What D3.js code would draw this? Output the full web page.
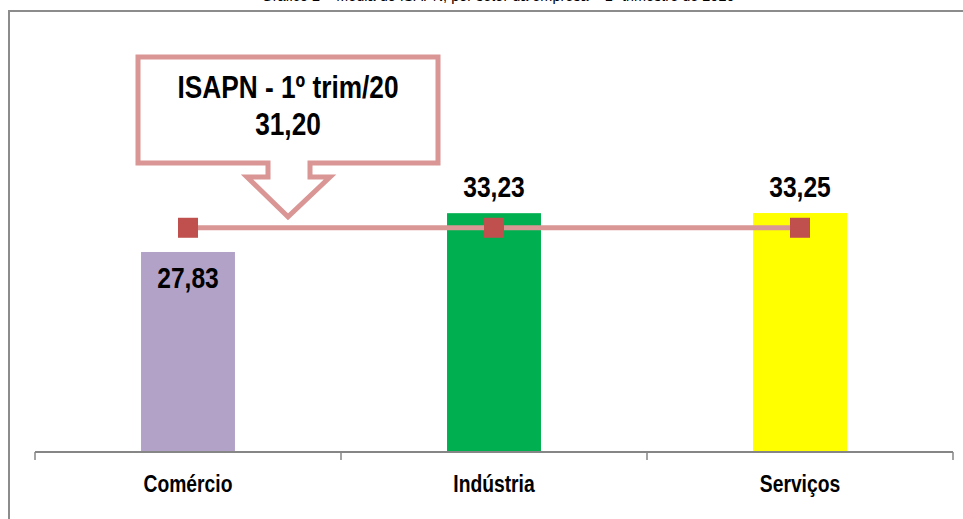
<!DOCTYPE html>
<html><head><meta charset="utf-8">
<script src="https://cdn.jsdelivr.net/npm/d3@7"></script>
<style>html,body{margin:0;padding:0;background:#fff;overflow:hidden}</style>
</head><body>
<script>
const categories = ["Comércio", "Indústria", "Serviços"];
const values = [27.83, 33.23, 33.25];
const isapnValue = 31.20;
const valueLabels = ["27,83", "33,23", "33,25"];
const calloutLines = ["ISAPN - 1º trim/20", "31,20"];
const titleText = "Gráfico 2 – Média do ISAPN, por setor da empresa – 1º trimestre de 2020";
const barColors = ["#b3a2c7", "#00b050", "#ffff00"];

const W = 963, H = 519;
const svg = d3.select("body").append("svg").attr("width", W).attr("height", H);
const FONT = "'Liberation Sans', Arial, sans-serif";

function narrow(sel, f) {
  sel.each(function(){ const L = this.getComputedTextLength(); d3.select(this).attr("textLength", L * (f||0.82)).attr("lengthAdjust", "spacingAndGlyphs"); });
}

// frame
svg.append("path").attr("d", "M9,525 V11 H970").attr("fill", "none").attr("stroke", "#8c8c8c").attr("stroke-width", 2);
// title (cut off at top, as in the reference)
svg.append("text").attr("x", 498).attr("y", 0.5).attr("text-anchor", "middle")
  .attr("font-family", FONT).attr("font-size", 14).attr("fill", "#000").text(titleText)
  .call(sel => sel.each(function(){ const L = this.getComputedTextLength(); d3.select(this).attr("textLength", 473).attr("lengthAdjust", "spacingAndGlyphs"); }));

const x = d3.scaleBand().domain(categories).range([35, 953]).paddingInner(0.693).paddingOuter(0.3465);
const y = d3.scaleLinear().domain([0, 40]).range([452, 452 - 40 * 7.187]);

// bars
svg.selectAll("rect.bar").data(categories).join("rect").attr("class", "bar")
  .attr("x", d => x(d)).attr("width", x.bandwidth())
  .attr("y", (d, i) => y(values[i])).attr("height", (d, i) => y(0) - y(values[i]))
  .attr("fill", (d, i) => barColors[i]);

// axis
const ax = svg.append("g").attr("transform", `translate(0,${y(0)})`);
ax.append("line").attr("x1", 35).attr("x2", 953).attr("stroke", "#868686").attr("stroke-width", 2);
const bounds = d3.range(categories.length + 1).map(i => x.range()[0] + i * x.step());
ax.selectAll("line.tick").data(bounds).join("line").attr("class", "tick")
  .attr("x1", d => d).attr("x2", d => d).attr("y1", 0).attr("y2", 8).attr("stroke", "#868686").attr("stroke-width", 1.5);
ax.selectAll("text.cat").data(categories).join("text").attr("class", "cat")
  .attr("x", d => x(d) + x.bandwidth() / 2).attr("y", 40).attr("text-anchor", "middle")
  .attr("font-family", FONT).attr("font-weight", "bold").attr("font-size", 23.5).attr("fill", "#000")
  .text(d => d).call(narrow);

// value labels
svg.selectAll("text.val").data(categories).join("text").attr("class", "val")
  .attr("x", d => x(d) + x.bandwidth() / 2)
  .attr("y", (d, i) => i === 0 ? y(values[i]) + 36 : y(values[i]) - 16)
  .attr("text-anchor", "middle").attr("font-family", FONT).attr("font-weight", "bold")
  .attr("font-size", 30).attr("fill", "#000").text((d, i) => valueLabels[i]).call(narrow);

// ISAPN line
const line = d3.line().x(d => x(d) + x.bandwidth() / 2).y(() => y(isapnValue));
svg.append("path").attr("d", line(categories)).attr("fill", "none").attr("stroke", "#d99694").attr("stroke-width", 5);
svg.selectAll("rect.mk").data(categories).join("rect").attr("class", "mk")
  .attr("x", d => x(d) + x.bandwidth() / 2 - 10).attr("y", y(isapnValue) - 10)
  .attr("width", 20).attr("height", 20).attr("fill", "#c0504d");

// callout
const tipX = 288, tipY = y(isapnValue) - 11;
const bx0 = 138, bx1 = 438, by0 = 57, by1 = 163;
const pts = [[bx0,by0],[bx1,by0],[bx1,by1],[tipX+22,by1],[tipX+22,by1+14],[tipX+42,by1+14],[tipX,tipY],[tipX-41,by1+14],[tipX-20,by1+14],[tipX-20,by1],[bx0,by1]];
svg.append("path").attr("d", "M" + pts.map(p => p.join(",")).join("L") + "Z")
  .attr("fill", "#fff").attr("stroke", "#d99694").attr("stroke-width", 5).attr("stroke-linejoin", "miter");
svg.selectAll("text.co").data(calloutLines).join("text").attr("class", "co")
  .attr("x", tipX).attr("y", (d, i) => 98 + i * 37).attr("text-anchor", "middle")
  .attr("font-family", FONT).attr("font-weight", "bold").attr("font-size", 32).attr("fill", "#000")
  .text(d => d).call(narrow);
</script>
</body></html>
